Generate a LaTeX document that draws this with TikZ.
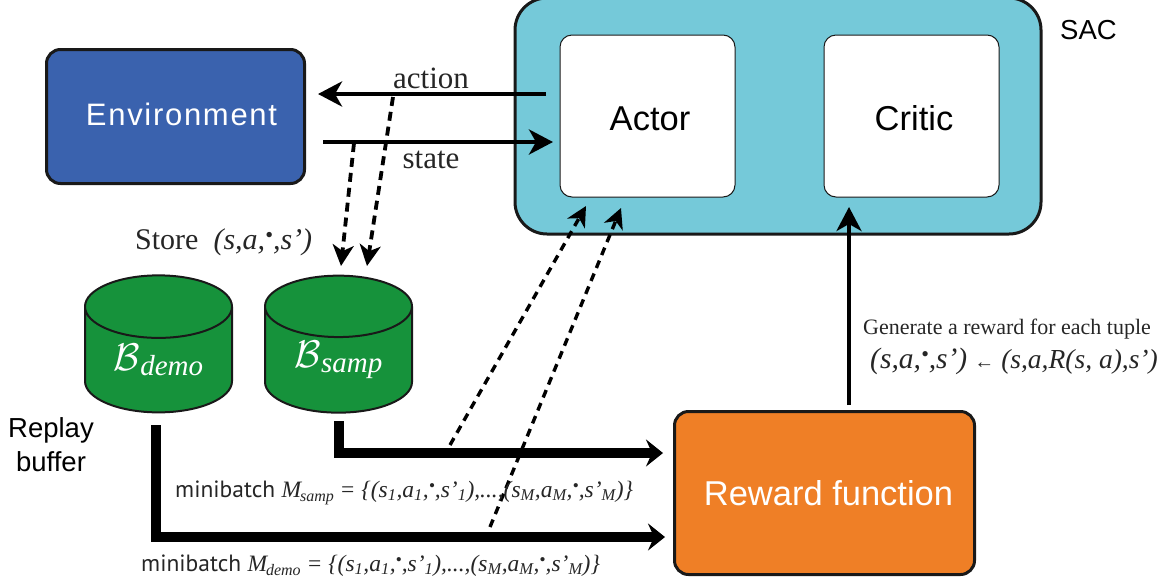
\documentclass[tikz,border=0pt]{standalone}
\usepackage{amsmath}
\usepackage{amssymb}
\usepackage{graphicx}
\usepackage{fontspec}
\setmainfont{Liberation Sans}
\newfontfamily\seriffont{Liberation Serif}
\newfontfamily\notefont{PT Sans}
\usetikzlibrary{arrows.meta,shapes.geometric}
\definecolor{envblue}{HTML}{3A62AE}
\definecolor{sacteal}{HTML}{75C9D9}
\definecolor{buffergreen}{HTML}{16923B}
\definecolor{rewardorange}{HTML}{EF7F26}
\newcommand{\slot}{\raisebox{.22em}{\scalebox{.75}{•}}}
\newcommand{\tuple}{(s,a,\slot,s’)}
\newcommand{\batch}[1]{{\seriffont\itshape M\kern-1pt\raisebox{-.2em}{\fontsize{16}{16}\selectfont #1} = \{(s\textsubscript{1},a\textsubscript{1},\slot,s’\textsubscript{1}),...,(s\textsubscript{M},a\textsubscript{M},\slot,s’\textsubscript{M})\}}}
\newcommand{\replay}[1]{\scalebox{1.55}{$\mathcal{B}$}{\seriffont\itshape\raisebox{-.2em}{#1}}}
\tikzset{
	box/.style={draw=black!90,line width=3pt,rounded corners=14pt},
	inner/.style={draw=black!90,line width=1pt,fill=white,rounded corners=12pt,minimum width=175pt,minimum height=162pt,text height=29pt,text depth=0pt,font=\fontsize{34.5}{34.5}\selectfont},
	buffer/.style={cylinder,shape border rotate=90,aspect=.7,draw=black!90,line width=2pt,fill=buffergreen,text=white,minimum width=147pt,minimum height=137pt,inner sep=0pt,font=\fontsize{29}{29}\selectfont},
	flow/.style={line width=4.5pt,-{Stealth[length=24pt,width=25pt,inset=7pt]}},
	thick batch/.style={line width=9.5pt,-{Stealth[length=17pt,width=27pt,inset=6pt]}},
	store/.style={line width=3.8pt,dash pattern=on 9pt off 6pt,-{Stealth[length=21pt,width=21pt,inset=6pt]}},
	sample/.style={line width=3.4pt,dash pattern=on 8pt off 6pt,-{Stealth[length=20pt,width=20pt,inset=6pt]}},
	note/.style={font=\notefont\fontsize{23.5}{23.5}\selectfont,text=black!85,anchor=base west,inner sep=0pt},
	serif/.style={font=\seriffont\fontsize{31}{31}\selectfont,text=black!85,inner sep=0pt}
}
\begin{document}
\begin{tikzpicture}[x=1pt,y=-1pt]
	\useasboundingbox (0,0) rectangle (1164,582);
	\node[box,fill=envblue,text=white,minimum width=258pt,minimum height=134pt,text depth=4pt,font=\fontsize{31}{31}\selectfont,anchor=north west] (env) at (45,48) {\hspace*{12pt}\addfontfeature{LetterSpace=5.5}Environment};
	\draw[box,fill=sacteal,rounded corners=32pt] (515,-2) rectangle (1041,234);
	\node[inner] (actor) at (647.5,116) {\hspace*{5pt}Actor};
	\node[inner] (critic) at (911.5,116) {\hspace*{5pt}Critic};
	\node[box,fill=rewardorange,text=white,minimum width=300pt,minimum height=163pt,font=\fontsize{34.5}{34.5}\selectfont] (reward) at (824.5,493) {\hspace*{8pt}Reward function};
	\node[buffer] (demo) at (158.5,360) {\replay{demo}};
	\node[buffer] (samp) at (338.5,360) {\replay{samp}};
	% Free ends of the arrows.
	\coordinate (actionout) at (546,94);
	\coordinate (actionin) at (318,94);
	\coordinate (stateout) at (323,142);
	\coordinate (statein) at (553,142);
	\coordinate (actiontap) at (393,97);
	\coordinate (statetap) at (354,143);
	\coordinate (storea) at (367,266);
	\coordinate (storeb) at (341,266);
	\coordinate (sampout) at (339,421);
	\coordinate (sampcorner) at (339,453);
	\coordinate (sampin) at (663,453);
	\coordinate (demoout) at (156,425);
	\coordinate (democorner) at (156,537);
	\coordinate (demoin) at (665,537);
	\coordinate (sampfrom) at (450,445);
	\coordinate (sampto) at (586,206);
	\coordinate (demofrom) at (490,527);
	\coordinate (demoto) at (621,208);
	\coordinate (rewardout) at (849,405);
	\coordinate (rewardin) at (849,207);
	\draw[flow] (actionout) -- (actionin);
	\draw[flow] (stateout) -- (statein);
	\draw[store] (actiontap) -- (storea);
	\draw[store] (statetap) -- (storeb);
	\draw[thick batch] (sampout) -- (sampcorner) -- (sampin);
	\draw[thick batch] (demoout) -- (democorner) -- (demoin);
	\draw[sample] (sampfrom) -- (sampto);
	\draw[sample] (demofrom) -- (demoto);
	\draw[flow,line width=4pt] (rewardout) -- (rewardin);
	% Labels.
	\node[font=\fontsize{27.5}{27.5}\selectfont,anchor=west,inner sep=0pt] (saclabel) at (1060,30) {SAC};
	\node[serif] (action) at (431,78) {action};
	\node[serif] (state) at (431,160) {state};
	\node[serif,font=\seriffont\fontsize{30}{30}\selectfont,anchor=base west] (store) at (135,249) {Store\ \ \itshape\tuple};
	\node[font=\fontsize{27.5}{34}\selectfont,align=center,inner sep=0pt] (replay) at (51,445) {Replay\\buffer};
	\node[note] (sampbatch) at (175,497) {minibatch \batch{samp}};
	\node[note] (demobatch) at (141,571) {minibatch \batch{demo}};
	\node[serif,font=\seriffont\fontsize{22}{22}\selectfont,anchor=west] (generate) at (863,329) {Generate a reward for each tuple};
	\node[serif,font=\seriffont\fontsize{29.5}{29.5}\selectfont,anchor=west] (rewardtuple) at (870,361) {\itshape\tuple\hspace{7pt}{\fontsize{20}{20}\selectfont ←}\hspace{7pt}{\fontsize{27.5}{27.5}\selectfont (s,a,R(s, a),s’)}};
\end{tikzpicture}
\end{document}
